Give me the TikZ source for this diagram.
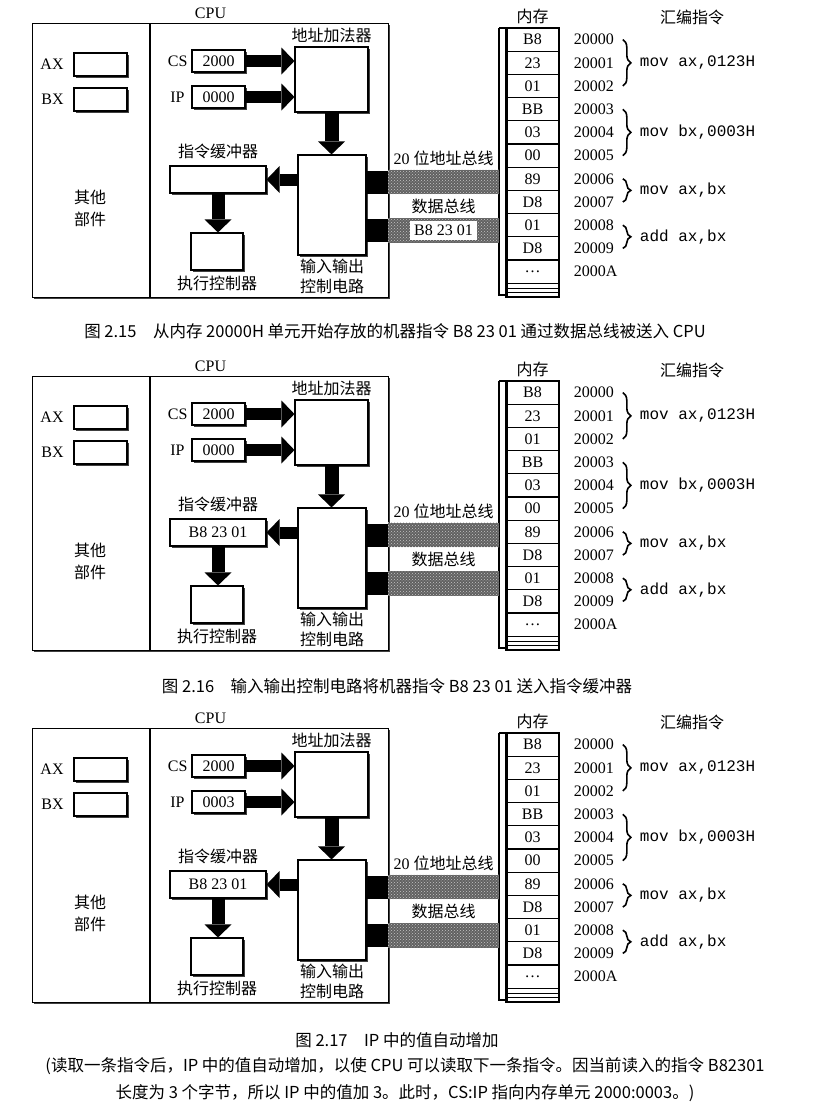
\documentclass[tikz,border=0pt]{standalone}
\usepackage{fontspec}
\setmainfont{Liberation Serif}
\setsansfont{Liberation Sans}
\setmonofont{Liberation Mono}
\newfontfamily\cjk{Noto Sans CJK SC}
\usepackage{tikz}
\usetikzlibrary{arrows.meta,positioning,shadows,patterns,calc}
\usetikzlibrary{decorations.pathreplacing}

\begin{document}
\begin{tikzpicture}[x=1pt,y=-1pt,line width=1.1pt,font=\fontsize{16}{18}\selectfont]
  % `box' is used for the registers and the units inside the CPU.
  % `port' is used for the black bus ends of the I/O unit.
  % `bus' is used for the hatched address and data buses.
  \tikzstyle{box} = [draw,fill=white,inner sep=0pt,drop shadow={shadow xshift=1.6pt,shadow yshift=-1.6pt,fill=black!75,opacity=1}]
  \tikzstyle{port} = [fill=black,inner sep=0pt,minimum width=21pt,minimum height=23pt]
  \tikzstyle{bus} = [fill=black!62,postaction={pattern=crosshatch dots,pattern color=gray!45}]
  \tikzstyle{bigarrow} = [line width=12pt,-{Triangle[width=27pt,length=13pt,line width=0pt 0]}]
  \tikzstyle{cell} = [draw,minimum width=53pt,minimum height=23.2pt,inner sep=0pt]
  \tikzstyle{zh} = [font=\fontsize{16}{20}\selectfont\cjk]
  \tikzstyle{asm} = [font=\fontsize{16}{18}\selectfont\ttfamily]
  \tikzstyle{brace} = [decorate,decoration={brace,amplitude=8pt},line width=1.6pt]
  \tikzstyle{caption} = [font=\fontsize{16.5}{27}\selectfont\cjk,align=center]
  \useasboundingbox (0,0) rectangle (816,1112);
  %
  \foreach \p/\off/\ipval in {1/0/0000,2/353/0000,3/705/0003} {
  \begin{scope}[shift={(0,\off)}]
  % CPU box.
  \node[box,anchor=north west,minimum width=356pt,minimum height=274pt] (cpu\p) at (32,23) {};
  \node[above=0pt of cpu\p] (cpulab\p) {CPU};
  \draw ([xshift=118pt]cpu\p.north west) -- ([xshift=118pt]cpu\p.south west);
  % Other parts.
  \node[box,minimum width=53pt,minimum height=23pt] (ax\p) at (100.5,64.5) {};
  \node[left=6pt of ax\p] (axlab\p) {AX};
  \node[box,minimum width=53pt,minimum height=23pt] (bx\p) at (100.5,99.5) {};
  \node[left=6pt of bx\p] (bxlab\p) {BX};
  \node[zh,align=center,font=\fontsize{16}{22}\selectfont\cjk] (other\p) at (90,208) {其他\\部件};
  % Segment and offset registers.
  \node[box,minimum width=53pt,minimum height=22pt] (cs\p) at (218.5,61) {2000};
  \node[left=0pt of cs\p] (cslab\p) {CS};
  \node[box,minimum width=53pt,minimum height=22pt] (ip\p) at (218.5,97) {\ipval};
  \node[left=3pt of ip\p] (iplab\p) {IP};
  % Units.
  \node[box,minimum width=73pt,minimum height=65pt] (adder\p) at (331.5,79.5) {};
  \node[zh,above=0pt of adder\p] (adderlab\p) {地址加法器};
  \node[box,minimum width=68pt,minimum height=100pt] (io\p) at (332,205) {};
  \node[zh,align=center,below=0pt of io\p] (iolab\p) {输入输出\\控制电路};
  \node[box,minimum width=96pt,minimum height=27pt] (buf\p) at (218,179.5) {\ifnum\p>1 B8 23 01\fi};
  \node[zh,above=3pt of buf\p] (buflab\p) {指令缓冲器};
  \node[box,minimum width=52pt,minimum height=37pt] (exec\p) at (217,251.5) {};
  \node[zh,below=2pt of exec\p] (execlab\p) {执行控制器};
  % Arrows inside the CPU.
  \draw[bigarrow] (cs\p.east) -- (cs\p.east -| adder\p.west);
  \draw[bigarrow] (ip\p.east) -- (ip\p.east -| adder\p.west);
  \draw[bigarrow,line width=14pt] (adder\p.south) -- (adder\p.south |- io\p.north);
  \draw[bigarrow] (io\p.west |- buf\p.east) -- (buf\p.east);
  \draw[bigarrow,line width=13pt] (buf\p.south) -- (buf\p.south |- exec\p.north);
  % Memory.
  \coordinate (memnw\p) at (499,28);
  \foreach \v [count=\i] in {B8,23,01,BB,03,00,89,D8,01,D8,\ldots}
    \node[cell] (m\p-\i) at (532.5,{28+23.2*(\i-0.5)}) {\v};
  \draw (m\p-11.south west) rectangle (559,297);
  \draw (506,288.5) -- (559,288.5) (506,292.5) -- (559,292.5);
  \draw (memnw\p) -- (506,28) (memnw\p) -- (499,295) -- (506,295);
  \draw[line width=3pt] (506,27) -- (506,297);
  \node[zh,above=0pt of m\p-1] (memlab\p) {内存};
  \foreach \a [count=\i] in {20000,20001,20002,20003,20004,20005,20006,20007,20008,20009,2000A}
    \node[right=10.5pt of m\p-\i] (a\p-\i) {\a};
  % Buses.
  \node[port,anchor=west] (pa\p) at (366,182) {};
  \node[port,anchor=west] (pd\p) at (366,230.5) {};
  \path[bus] (pa\p.north east) rectangle (memnw\p |- pa\p.south);
  \path[bus] (pd\p.north east) rectangle (memnw\p |- pd\p.south);
  \node[above=0pt] (abuslab\p) at ($(pa\p.north east)!0.5!(memnw\p |- pa\p.north)$) {20 {\cjk 位地址总线}};
  \node (dbuslab\p) at ($(pa\p.south east)!0.5!(memnw\p |- pd\p.north)$) {\cjk 数据总线};
  \ifnum\p=1
    \node[fill=white,inner xsep=4pt,inner ysep=1pt,minimum height=19pt] (dval\p) at ($(pd\p.east)!0.5!(memnw\p |- pd\p.east)$) {B8 23 01};
  \fi
  % Assembly instructions.
  \node[zh] (asmlab\p) at (692,17) {汇编指令};
  \draw[brace] ([xshift=5pt]a\p-1.east) -- node[asm,right=13pt] (asm\p-1) {mov ax,0123H} ([xshift=5pt]a\p-3.east);
  \draw[brace] ([xshift=5pt]a\p-4.east) -- node[asm,right=13pt] (asm\p-2) {mov bx,0003H} ([xshift=5pt]a\p-6.east);
  \draw[brace] ([xshift=5pt]a\p-7.east) -- node[asm,right=13pt] (asm\p-3) {mov ax,bx} ([xshift=5pt]a\p-8.east);
  \draw[brace] ([xshift=5pt]a\p-9.east) -- node[asm,right=13pt] (asm\p-4) {add ax,bx} ([xshift=5pt]a\p-10.east);
  \end{scope}
  }
  % Captions.
  \node[caption] (cap1) at (395,331) {图 2.15\quad 从内存 20000H 单元开始存放的机器指令 B8 23 01 通过数据总线被送入 CPU};
  \node[caption] (cap2) at (397,686) {图 2.16\quad 输入输出控制电路将机器指令 B8 23 01 送入指令缓冲器};
  \node[caption] (cap3) at (397,1040) {图 2.17\quad IP 中的值自动增加};
  \node[caption] (note) at (405,1079.5) {(读取一条指令后，IP 中的值自动增加，以使 CPU 可以读取下一条指令。因当前读入的指令 B82301\\长度为 3 个字节，所以 IP 中的值加 3。此时，CS:IP 指向内存单元 2000:0003。)};
\end{tikzpicture}
\end{document}
